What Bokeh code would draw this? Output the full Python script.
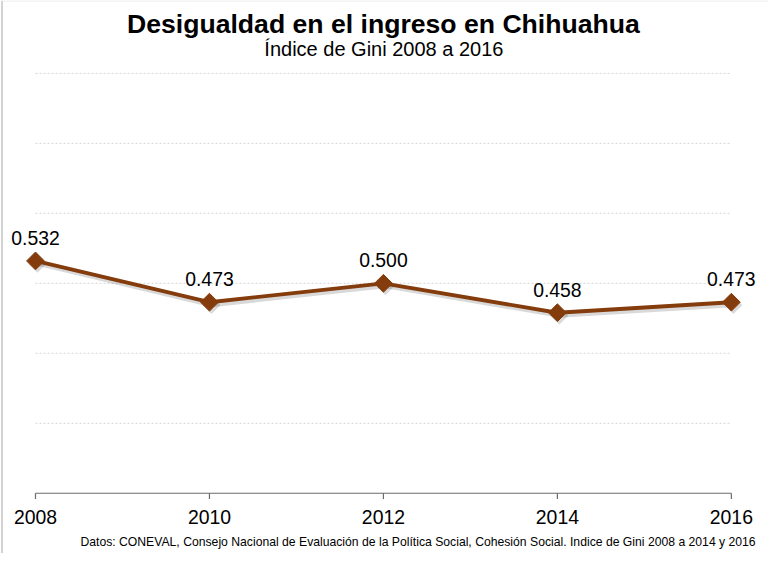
import math
from bokeh.plotting import figure
from bokeh.models import Range1d, LabelSet, ColumnDataSource
from bokeh.core.properties import value
from bokeh.embed import file_html
from bokeh.resources import INLINE

# ---- data ----
years = [2008, 2010, 2012, 2014, 2016]
gini = [0.532, 0.473, 0.500, 0.458, 0.473]
grid_values = [0.3, 0.4, 0.5, 0.6, 0.7, 0.8]
axis_base = 0.2
title_text = "Desigualdad en el ingreso en Chihuahua"
subtitle_text = "Índice de Gini 2008 a 2016"
footer_text = ("Datos: CONEVAL, Consejo Nacional de Evaluación de la Política Social, "
               "Cohesión Social. Indice de Gini 2008 a 2014 y 2016")

W, H = 768, 553
S = H / 569.0                  # uniform scale from the 784x569 layout
PX_PER_YEAR = 89.5 * S
PX_PER_UNIT = 720.0 * S
AXIS_PX = 507 * S              # pixel row of the axis line
X_LEFT_PX = 36 * S             # pixel column of first year
X0 = years[0] - X_LEFT_PX / PX_PER_YEAR
X1 = X0 + W / PX_PER_YEAR
Y0 = axis_base - (H - AXIS_PX) / PX_PER_UNIT
Y1 = axis_base + AXIS_PX / PX_PER_UNIT


def px_x(px):
    return X0 + px / PX_PER_YEAR


def px_y(py):
    return Y1 - py / PX_PER_UNIT


def fs(size):
    return f"{size * S:.1f}px"


FONT = "Liberation Sans"
BROWN = "#843C0C"
AXIS_COLOR = "#6b6b6b"

p = figure(width=W, height=H, output_backend="svg", toolbar_location=None,
           x_range=Range1d(X0, X1), y_range=Range1d(Y0, Y1),
           x_axis_location=None, y_axis_location=None,
           min_border_left=0, min_border_right=0,
           min_border_top=0, min_border_bottom=0)
p.outline_line_color = None
p.background_fill_color = "white"
p.border_fill_color = "white"
p.xgrid.visible = False
p.ygrid.visible = False

# chart-area border (left and top edges)
p.segment(x0=[px_x(1.5)], x1=[px_x(1.5)], y0=[px_y(0)], y1=[px_y(H)],
          line_color="#c4c4c4", line_width=1.5)
p.segment(x0=[px_x(0)], x1=[px_x(W)], y0=[px_y(0.5)], y1=[px_y(0.5)],
          line_color="#e8e8e8", line_width=1)

# gridlines
p.segment(x0=[years[0]] * len(grid_values), x1=[years[-1]] * len(grid_values),
          y0=grid_values, y1=grid_values, line_color="#d4d4d4",
          line_width=1, line_dash="2 2")

# x axis (drawn by hand so it spans exactly the first to last year)
tick_len = 6 * S / PX_PER_UNIT
p.segment(x0=[years[0]], x1=[years[-1]], y0=[axis_base], y1=[axis_base],
          line_color=AXIS_COLOR, line_width=1.2)
p.segment(x0=years, x1=years, y0=[axis_base] * len(years),
          y1=[axis_base - tick_len] * len(years),
          line_color=AXIS_COLOR, line_width=1.2)
tick_src = ColumnDataSource(dict(x=years, y=[axis_base] * len(years),
                                 t=[str(y) for y in years]))
p.add_layout(LabelSet(x="x", y="y", text="t", source=tick_src, y_offset=-31,
                      text_align="center", text_baseline="alphabetic",
                      text_font=value(FONT), text_font_size=fs(20),
                      text_color="black"))

# shadow
dx = 2 / PX_PER_YEAR
dy = 3 / PX_PER_UNIT
sx = [x + dx for x in years]
sy = [y - dy for y in gini]
p.line(sx, sy, line_color="black", line_alpha=0.15, line_width=4)
p.scatter(sx, sy, marker="square", angle=math.pi / 4, size=12.6,
          fill_color="black", fill_alpha=0.15, line_color=None)

# series
p.line(years, gini, line_color=BROWN, line_width=3.9)
p.scatter(years, gini, marker="square", angle=math.pi / 4, size=12.6,
          fill_color=BROWN, line_color=BROWN)

src = ColumnDataSource(dict(x=years, y=gini, t=[f"{v:.3f}" for v in gini]))
p.add_layout(LabelSet(x="x", y="y", text="t", source=src, y_offset=16,
                      text_align="center", text_baseline="alphabetic",
                      text_font=value(FONT), text_font_size=fs(20),
                      text_color="black"))


def add_text(txt, x_ref, y_ref, size, align="center", bold=False):
    s = ColumnDataSource(dict(x=[px_x(x_ref * S)], y=[px_y(y_ref * S)], t=[txt]))
    p.add_layout(LabelSet(x="x", y="y", text="t", source=s,
                          text_align=align, text_baseline="alphabetic",
                          text_font=value(FONT), text_font_size=size,
                          text_font_style="bold" if bold else "normal",
                          text_color="black"))


add_text(title_text, 394, 33.5, "26.6px", bold=True)
add_text(subtitle_text, 394.5, 57.5, "20px")
add_text(footer_text, 777, 561, "12.2px", align="right")

open("out.html", "w").write(file_html(p, INLINE))
